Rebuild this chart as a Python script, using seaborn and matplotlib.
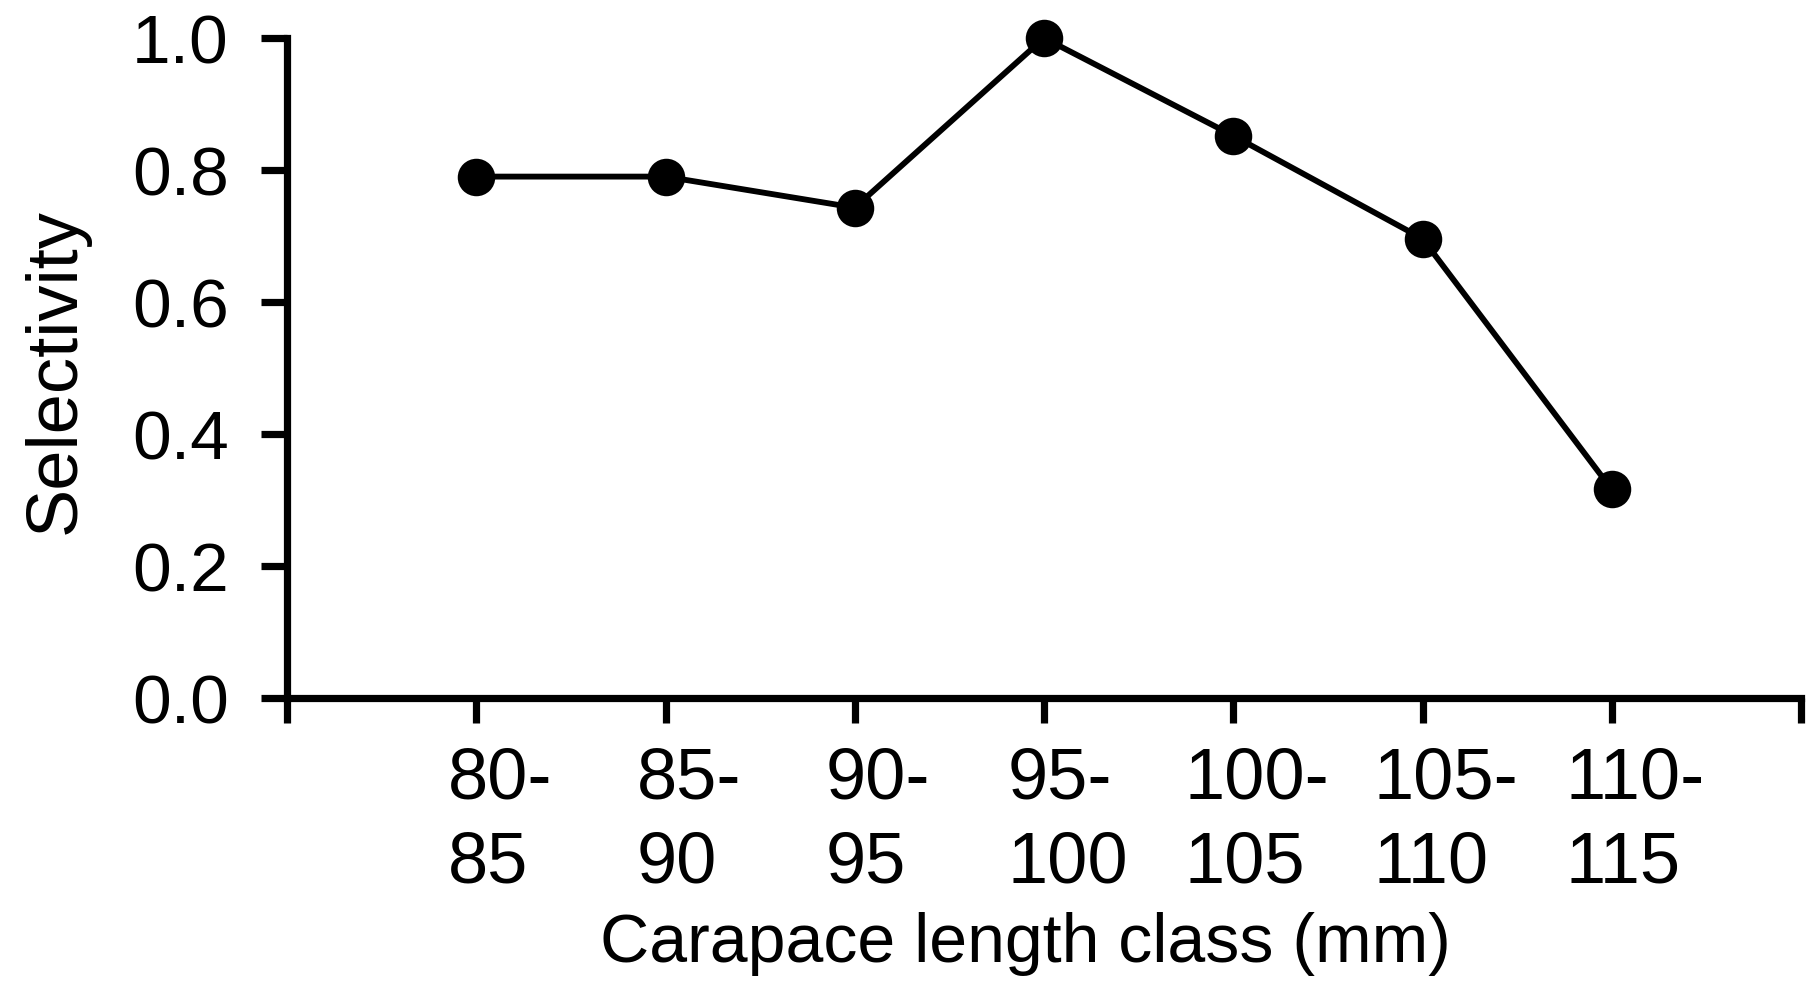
import matplotlib
matplotlib.use("Agg")
import matplotlib.pyplot as plt
import matplotlib.transforms as mtransforms
from matplotlib import font_manager
import seaborn as sns
import pandas as pd

# Carapace length classes (mm) and gear selectivity per class
length_classes = ["80-\n85", "85-\n90", "90-\n95", "95-\n100", "100-\n105", "105-\n110", "110-\n115"]
selectivity = [0.79, 0.79, 0.743, 1.0, 0.852, 0.696, 0.316]
y_ticks = [0.0, 0.2, 0.4, 0.6, 0.8, 1.0]

df = pd.DataFrame({"pos": range(len(length_classes)), "selectivity": selectivity})

sns.set_theme(style="ticks")
plt.rcParams["font.family"] = ["Liberation Sans", "DejaVu Sans"]

installed = {f.name for f in font_manager.fontManager.ttflist}
narrow = "Liberation Sans Narrow" if "Liberation Sans Narrow" in installed else "Liberation Sans"
ytick_size = 54 if narrow == "Liberation Sans Narrow" else 50

fig = plt.figure(figsize=(18.14, 9.93), dpi=100)
# axes box: x from -1 to 7 category slots, y from 0 to 1
ax = fig.add_axes([287 / 1814, 1 - 698 / 993, (1801 - 287) / 1814, (698 - 38) / 993])

sns.lineplot(data=df, x="pos", y="selectivity", ax=ax, color="black",
             linewidth=4.2, marker="o", markersize=27, markeredgewidth=0,
             markerfacecolor="black", clip_on=False)

ax.set_xlim(-1, len(length_classes))
ax.set_ylim(0, 1)
ax.set_yticks(y_ticks)
ax.set_yticklabels([f"{v:.1f}" for v in y_ticks], fontfamily=narrow)
ax.set_xticks(range(-1, len(length_classes) + 1))
ax.set_xticklabels([""] + length_classes + [""])

for side in ("top", "right"):
    ax.spines[side].set_visible(False)
for side in ("left", "bottom"):
    ax.spines[side].set_linewidth(5.2)
    ax.spines[side].set_color("black")
    ax.spines[side].set_capstyle("projecting")

ax.tick_params(axis="y", length=19, width=5.2, labelsize=ytick_size, pad=23, colors="black")
ax.tick_params(axis="x", length=18, width=5.2, labelsize=52, pad=17, colors="black")

offset = mtransforms.ScaledTranslation(17 / 72, 0, fig.dpi_scale_trans)
for lbl in ax.get_xticklabels():
    lbl.set_multialignment("left")
    lbl.set_linespacing(1.33)
    lbl.set_transform(lbl.get_transform() + offset)

ax.set_xlabel("Carapace length class (mm)", fontsize=49, color="black")
ax.xaxis.set_label_coords(0.488, -0.325)
ax.set_ylabel("Selectivity", fontsize=52, color="black")
ax.yaxis.set_label_coords(-0.130, 0.495)

fig.savefig("out.png", dpi=100, facecolor="white")
